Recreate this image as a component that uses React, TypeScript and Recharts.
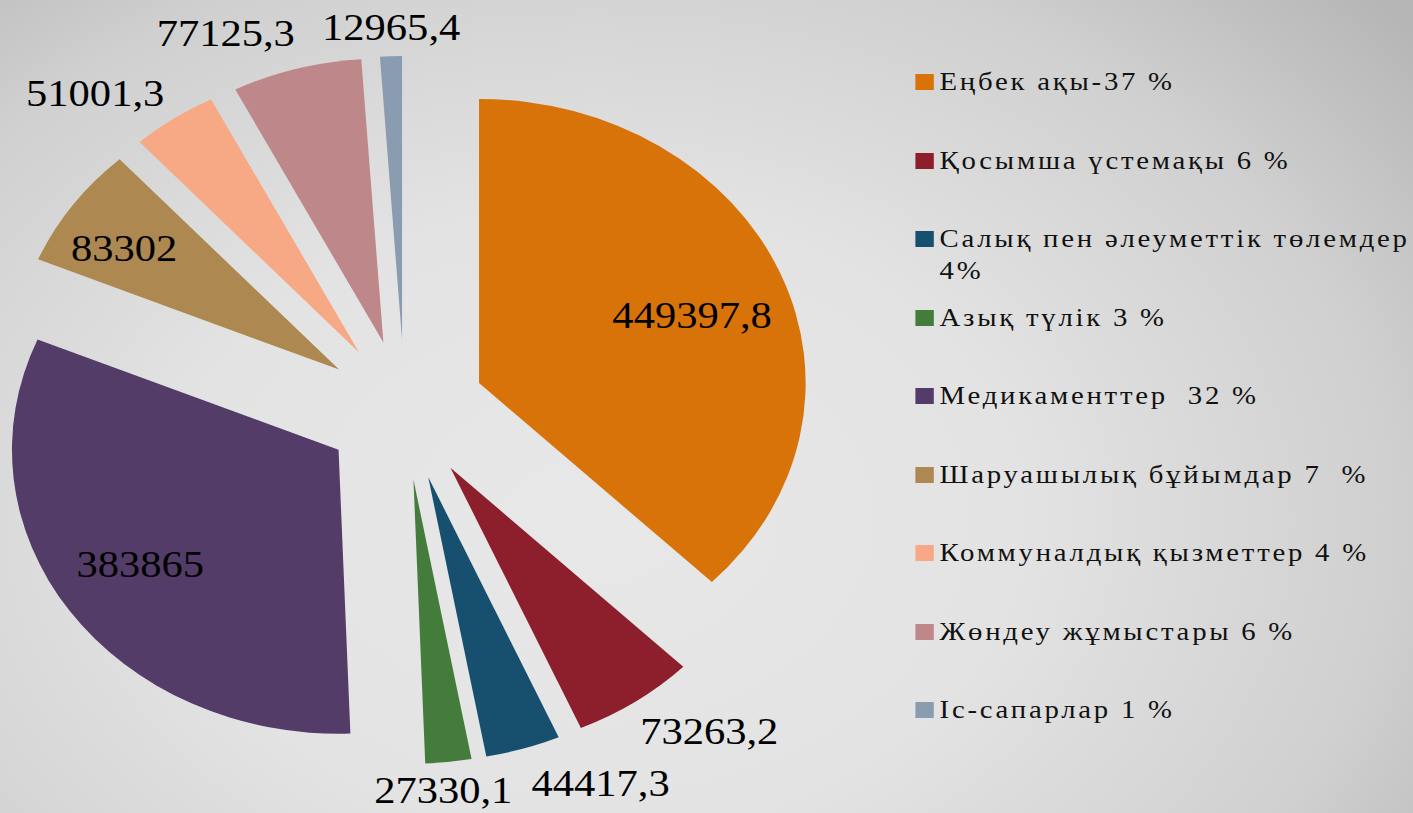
import React from 'react';
import { PieChart, Pie, Cell, Sector, Legend } from 'recharts';

// expense categories (legend text as on the slide)
const categories = [
  'Еңбек ақы-37 %',
  'Қосымша үстемақы 6 %',
  'Салық пен әлеуметтік төлемдер\n4%',
  'Азық түлік 3 %',
  'Медикаменттер  32 %',
  'Шаруашылық бұйымдар 7  %',
  'Коммуналдық қызметтер 4 %',
  'Жөндеу жұмыстары 6 %',
  'Іс-сапарлар 1 %',
];

const amounts = [449397.8, 73263.2, 44417.3, 27330.1, 383865, 83302, 51001.3, 77125.3, 12965.4];

const colors = ['#D8730A', '#8D1F2D', '#17506F', '#447C3B', '#543C68', '#AD8850', '#F7A985', '#BE878A', '#8A9CB0'];

// where each value label sits: share of the radius from the exploded centre, and a small turn in degrees
const labelRadius = [0.695, 1.22, 1.2, 1.1, 0.73, 0.785, 1.217, 1.19, 1.1];
const labelTurn = [-2.6, 6, 9.2, -1.4, -0.9, 2.3, 7, 8.5, -0.2];

const data = categories.map((name, i) => ({ name, value: amounts[i] }));

const FONT = '"Liberation Serif", "DejaVu Serif", "Times New Roman", serif';
const W = 1229;
const H = 813;
const STRETCH = 1.15; // the slide is stretched sideways
const EXPLODE = 70;
const RAD = Math.PI / 180;

function shift(x: number, y: number, angle: number, dist: number) {
  return [x + dist * Math.cos(-angle * RAD), y + dist * Math.sin(-angle * RAD)];
}

const ExplodedSector = (props: any) => {
  const [x, y] = shift(props.cx, props.cy, props.midAngle, EXPLODE);
  return <Sector {...props} cx={x} cy={y} />;
};

const renderLabel = (props: any) => {
  const { cx, cy, midAngle, outerRadius, value, index } = props;
  const [ex, ey] = shift(cx, cy, midAngle, EXPLODE);
  const [x, y] = shift(ex, ey, midAngle + labelTurn[index], outerRadius * labelRadius[index]);
  return (
    <text x={x} y={y} textAnchor="middle" dominantBaseline="central" fill="#000" fontSize={37} style={{ fontFamily: FONT }}>
      {String(value).replace('.', ',')}
    </text>
  );
};

const renderLegend = (props: any) => {
  const items = [...(props.payload || [])].sort(
    (a: any, b: any) => categories.indexOf(a.value) - categories.indexOf(b.value)
  );
  return (
    <div style={{ position: 'relative', width: 433, height: H, fontFamily: FONT, fontSize: 25, letterSpacing: 2.4, color: '#111' }}>
      {items.map((entry: any, i: number) => (
        <div key={entry.value} style={{ position: 'absolute', left: 0, top: 82 + i * 78.5 - 16, height: 32 }}>
          <span style={{ position: 'absolute', left: 0, top: 8, width: 16, height: 16, background: entry.color }} />
          <span style={{ position: 'absolute', left: 21, top: 0, lineHeight: '32px', whiteSpace: 'pre' }}>{entry.value}</span>
        </div>
      ))}
    </div>
  );
};

export default function App() {
  return (
    <div
      style={{
        position: 'absolute',
        left: 0,
        top: 0,
        width: 1413,
        height: 813,
        overflow: 'hidden',
        background: 'radial-gradient(ellipse 75% 95% at 42% 64%, #e8e8e8 0%, #e3e3e3 40%, #d0d0d0 75%, #b6b6b6 100%)',
      }}
    >
      <div style={{ width: W, height: H, transform: `scaleX(${STRETCH})`, transformOrigin: '0 0' }}>
        <PieChart width={W} height={H} margin={{ top: 0, right: 0, bottom: 0, left: 0 }}>
          <Pie
            data={data}
            dataKey="value"
            nameKey="name"
            cx={352}
            cy={410}
            outerRadius={284}
            startAngle={90}
            endAngle={-270}
            stroke="none"
            shape={ExplodedSector}
            label={renderLabel}
            labelLine={false}
            isAnimationActive={false}
          >
            {data.map((d, i) => (
              <Cell key={d.name} fill={colors[i]} />
            ))}
          </Pie>
          <Legend
            layout="vertical"
            align="right"
            verticalAlign="top"
            content={renderLegend}
            wrapperStyle={{ left: 796, top: 0, width: 433, height: H }}
          />
        </PieChart>
      </div>
    </div>
  );
}
